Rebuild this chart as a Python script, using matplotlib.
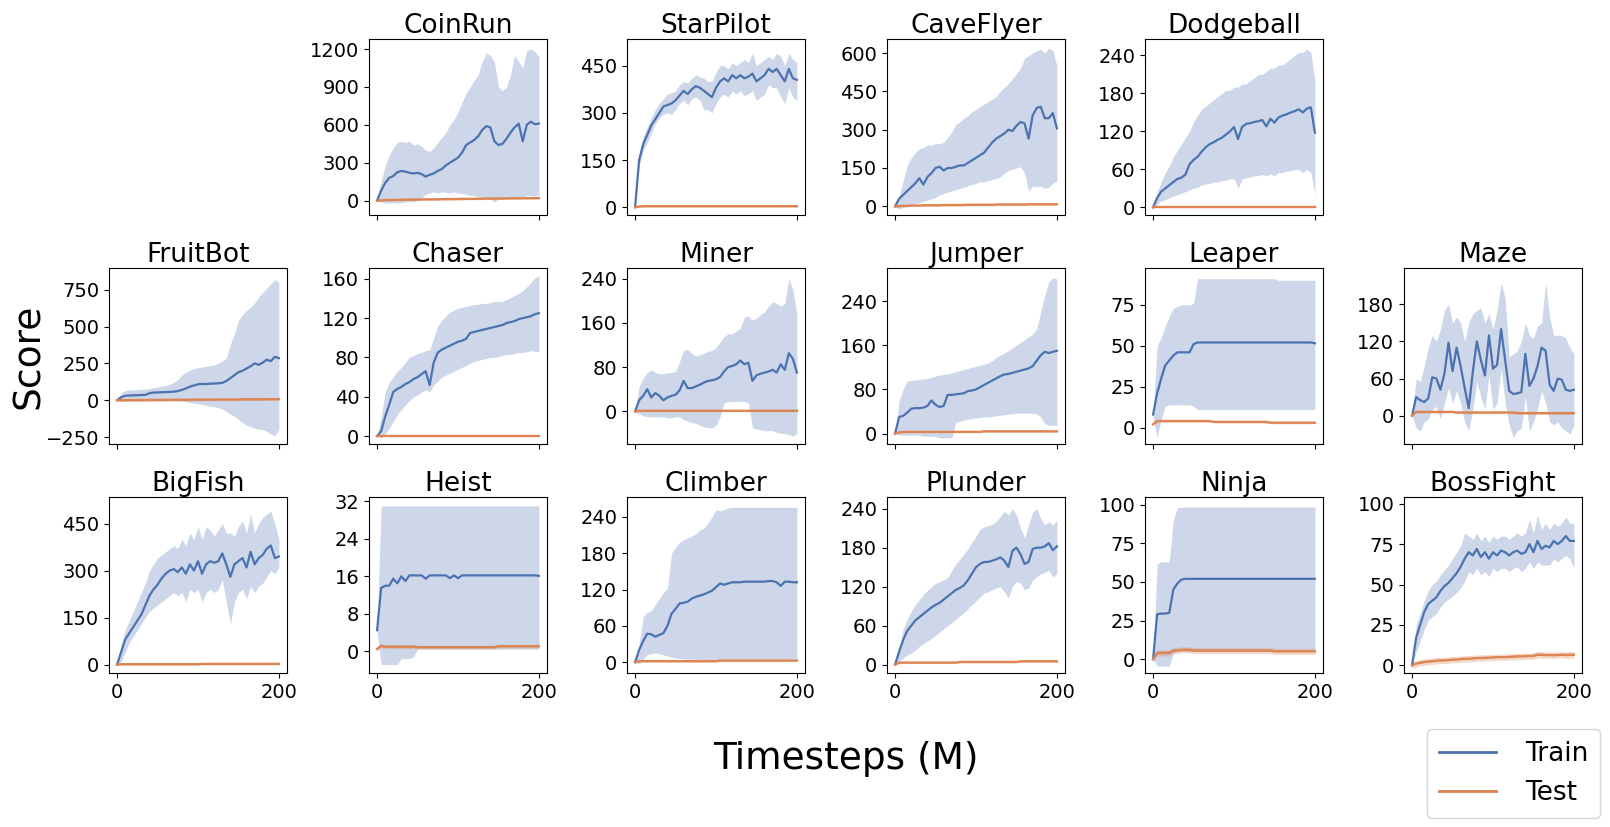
import matplotlib
matplotlib.use("Agg")
import matplotlib.pyplot as plt
from matplotlib.lines import Line2D

# ---------------------------------------------------------------------------
# Data (train mean, band low/high, test mean), x in M steps
# ---------------------------------------------------------------------------

STEPS = list(range(0, 205, 5))

COINRUN_TRAIN = [0, 80, 140, 180, 195, 225, 235, 230, 220, 215, 220, 210, 190, 205, 215, 235, 250, 280, 300, 320,
                 340, 380, 440, 460, 480, 510, 560, 590, 580, 470, 440, 450, 490, 540, 580, 610, 470, 600, 625, 605, 610]
COINRUN_HI = [0, 150, 280, 360, 420, 460, 470, 460, 470, 440, 450, 430, 400, 390, 420, 460, 500, 540, 600, 640,
              700, 780, 850, 900, 950, 1000, 1100, 1170, 1150, 1100, 900, 870, 900, 1000, 1150, 1100, 1050, 1190, 1200, 1180, 1140]
COINRUN_LO = [0, -10, -20, -20, -15, -20, -15, -10, -10, -10, 0, 20, 50, 60, 70, 60, 70, 65, 60, 70,
              60, 55, 50, 40, 40, 30, 30, 20, 10, -10, 10, 10, 20, 20, 30, 20, 30, 40, 40, 40, 40]
COINRUN_TEST = [0, 2, 4, 5, 6, 6, 7, 7, 8, 8, 9, 9, 10, 10, 10, 11, 11, 12, 12, 12,
                13, 13, 14, 14, 14, 15, 15, 16, 16, 16, 17, 17, 17, 18, 18, 18, 19, 19, 19, 20, 20]

STARPILOT_TRAIN = [0, 150, 200, 230, 260, 280, 300, 320, 325, 330, 340, 355, 370, 360, 375, 385, 380, 370, 360, 350,
                   380, 400, 410, 400, 420, 410, 420, 410, 415, 425, 400, 410, 420, 440, 430, 440, 420, 400, 440, 410, 405]
STARPILOT_HI = [0, 170, 225, 255, 285, 310, 330, 345, 360, 365, 370, 390, 400, 395, 410, 420, 415, 410, 400, 400,
                430, 450, 450, 440, 460, 450, 460, 470, 460, 490, 450, 460, 470, 480, 470, 490, 480, 450, 490, 470, 460]
STARPILOT_LO = [0, 130, 180, 205, 235, 265, 285, 295, 300, 295, 310, 330, 340, 325, 345, 350, 340, 310, 310, 300,
                330, 350, 360, 350, 370, 360, 370, 355, 360, 370, 340, 350, 360, 390, 380, 380, 350, 330, 380, 350, 340]
STARPILOT_TEST = [0, 2] + [3] * 39

CAVEFLYER_TRAIN = [0, 30, 45, 60, 75, 90, 110, 85, 115, 130, 150, 155, 140, 150, 150, 155, 160, 160, 170, 180,
                   190, 200, 210, 230, 250, 265, 275, 285, 300, 295, 315, 330, 325, 265, 355, 385, 390, 345, 345, 365, 305]
CAVEFLYER_HI = [0, 40, 100, 160, 190, 210, 225, 230, 240, 240, 245, 245, 250, 270, 290, 320, 330, 345, 355, 370,
                380, 390, 400, 410, 420, 430, 450, 465, 480, 500, 520, 540, 580, 590, 600, 610, 615, 600, 620, 610, 550]
CAVEFLYER_LO = [0, -10, -5, 0, 5, 10, 15, 20, 25, 30, 35, 45, 50, 55, 60, 65, 70, 75, 80, 85,
                90, 95, 95, 100, 105, 110, 115, 130, 140, 145, 150, 155, 130, 60, 80, 75, 80, 70, 75, 90, 100]
CAVEFLYER_TEST = [0, 1, 2, 2, 3, 3, 3, 4, 4, 4, 4, 4, 5, 5, 5, 5, 5, 5, 6, 6,
                  6, 6, 6, 6, 6, 7, 7, 7, 7, 7, 7, 7, 7, 8, 8, 8, 8, 8, 8, 8, 8]

DODGEBALL_TRAIN = [0, 15, 25, 30, 35, 40, 45, 47, 52, 68, 75, 80, 88, 95, 100, 103, 107, 110, 115, 120,
                   127, 108, 127, 132, 133, 135, 136, 138, 128, 140, 134, 142, 145, 147, 150, 152, 155, 150, 156, 158, 118]
DODGEBALL_HI = [0, 25, 40, 55, 65, 80, 90, 100, 110, 120, 135, 145, 155, 160, 165, 170, 175, 180, 185, 185,
                190, 190, 195, 195, 200, 205, 210, 210, 215, 220, 220, 225, 225, 230, 235, 240, 245, 245, 250, 245, 200]
DODGEBALL_LO = [0, 5, 10, 12, 15, 18, 20, 22, 25, 28, 30, 32, 35, 37, 38, 40, 40, 42, 43, 45,
                45, 30, 45, 47, 48, 50, 50, 52, 50, 53, 50, 55, 55, 57, 58, 60, 60, 55, 60, 55, 20]
DODGEBALL_TEST = [0.5] * 41

FRUITBOT_TRAIN = [0, 20, 30, 32, 33, 34, 35, 36, 48, 52, 53, 54, 55, 56, 58, 62, 70, 80, 92, 100,
                  108, 110, 110, 112, 113, 115, 118, 130, 150, 170, 190, 200, 215, 230, 250, 240, 255, 275, 265, 295, 285]
FRUITBOT_HI = [0, 50, 65, 70, 70, 72, 75, 75, 80, 85, 90, 95, 100, 110, 120, 140, 170, 190, 205, 215,
               220, 225, 230, 235, 240, 250, 265, 285, 380, 450, 540, 580, 610, 630, 660, 700, 730, 760, 790, 820, 800]
FRUITBOT_LO = [0, -5, -5, -5, -5, -5, -5, -5, -5, -5, -5, -5, -5, -5, -5, -5, -8, -10, -15, -20,
               -25, -30, -35, -40, -45, -50, -60, -75, -95, -110, -130, -150, -170, -180, -190, -195, -200, -210, -230, -240, -200]
FRUITBOT_TEST = [0, 0, 0, 1, 1, 1, 1, 1, 2, 2, 2, 2, 2, 3, 3, 3, 3, 3, 3, 4,
                 4, 4, 4, 4, 4, 5, 5, 5, 5, 5, 5, 6, 6, 6, 6, 6, 7, 7, 7, 7, 8]

CHASER_TRAIN = [0, 5, 20, 32, 45, 48, 50, 53, 55, 58, 60, 63, 66, 52, 75, 85, 88, 90, 92, 94,
                96, 97, 99, 105, 106, 107, 108, 109, 110, 111, 112, 113, 115, 116, 117, 119, 120, 121, 122, 124, 125]
CHASER_HI = [0, 20, 45, 55, 60, 66, 70, 75, 80, 82, 84, 85, 87, 88, 100, 112, 118, 122, 126, 128,
             130, 131, 132, 133, 134, 134, 135, 135, 136, 137, 137, 137, 139, 141, 143, 145, 148, 152, 156, 161, 163]
CHASER_LO = [0, -2, 2, 8, 15, 22, 27, 32, 36, 40, 42, 45, 47, 45, 52, 56, 60, 62, 64, 66,
             68, 70, 72, 74, 76, 77, 78, 79, 80, 80, 81, 82, 83, 83, 84, 85, 85, 86, 87, 86, 86]
CHASER_TEST = [0.5] * 41

MINER_TRAIN = [0, 20, 28, 40, 25, 33, 28, 20, 25, 28, 30, 38, 55, 42, 42, 45, 48, 52, 55, 56,
               58, 62, 72, 80, 82, 85, 92, 85, 88, 55, 65, 68, 70, 72, 75, 70, 85, 75, 105, 95, 70]
MINER_HI = [0, 45, 60, 70, 75, 70, 68, 68, 70, 70, 72, 90, 110, 112, 105, 100, 102, 105, 108, 110,
            115, 125, 135, 140, 140, 145, 150, 170, 172, 165, 168, 175, 180, 190, 198, 195, 190, 195, 240, 220, 175]
MINER_LO = [0, -5, -8, -10, -10, -10, -10, -10, -12, -12, -10, -10, -15, -18, -20, -22, -25, -28, -30, -30,
            -25, -10, 15, 18, 18, 18, 18, 18, 15, -30, -32, -33, -35, -35, -35, -38, -40, -40, -42, -45, -40]
MINER_TEST = [0] + [1] * 40

JUMPER_TRAIN = [0, 30, 32, 38, 45, 46, 46, 47, 50, 60, 52, 48, 50, 70, 70, 71, 72, 73, 77, 78,
                80, 84, 88, 92, 96, 100, 104, 107, 108, 110, 112, 114, 116, 118, 122, 132, 142, 148, 146, 148, 150]
JUMPER_HI = [0, 60, 80, 95, 96, 97, 98, 99, 100, 102, 104, 106, 107, 108, 110, 112, 114, 116, 118, 120,
             122, 124, 126, 128, 132, 138, 142, 146, 150, 155, 160, 165, 170, 175, 180, 190, 220, 250, 275, 282, 280]
JUMPER_LO = [0, -3, -3, -3, -3, -3, -3, -5, -5, -5, -5, -8, -8, -8, -8, 20, 22, 24, 26, 27,
             28, 29, 30, 30, 31, 32, 33, 34, 35, 36, 37, 37, 37, 37, 36, 36, 30, 18, 15, 15, 15]
JUMPER_TEST = [0, 2] + [3] * 20 + [4] * 19

LEAPER_TRAIN = [8, 21, 30, 38, 41, 44, 46, 46, 46, 46, 51] + [52] * 29 + [51.5]
LEAPER_HI = [8, 50, 55, 62, 68, 73, 74, 75, 75, 75, 76] + [91] * 20 + [90] * 10
LEAPER_LO = [6, -6, 5, 13, 14, 14, 14, 14, 14, 14, 13] + [11] * 30
LEAPER_TEST = [2] + [4] * 14 + [3.5] * 14 + [3] * 12

MAZE_TRAIN = [0, 30, 25, 22, 28, 62, 60, 42, 68, 118, 72, 110, 80, 45, 12, 70, 120, 90, 65, 130,
              76, 82, 140, 90, 40, 35, 36, 38, 100, 48, 60, 80, 110, 105, 50, 40, 60, 58, 42, 40, 42]
MAZE_HI = [0, 60, 55, 80, 110, 130, 120, 140, 170, 180, 150, 160, 150, 120, 150, 165, 170, 175, 150, 165,
           140, 170, 215, 190, 95, 100, 105, 120, 150, 130, 125, 145, 150, 215, 160, 130, 130, 130, 125, 110, 100]
MAZE_LO = [0, -20, -25, -10, -5, 10, 15, -5, 20, 45, 20, 40, 20, -10, -25, 10, 55, 30, 10, 65,
           10, 20, 75, 20, -15, -35, -25, -20, 30, -25, -10, 10, 40, 20, -10, -15, -10, -20, -25, -30, -15]
MAZE_TEST = [0] + [6] * 10 + [5] * 15 + [4] * 15

BIGFISH_TRAIN = [0, 40, 80, 100, 120, 140, 160, 190, 220, 240, 255, 275, 290, 300, 305, 295, 310, 290, 320, 300,
                 330, 290, 320, 330, 325, 330, 355, 320, 280, 320, 330, 340, 310, 360, 320, 340, 350, 370, 380, 340, 345]
BIGFISH_HI = [0, 60, 110, 140, 170, 200, 230, 260, 300, 320, 340, 350, 360, 370, 380, 370, 400, 380, 420, 400,
              440, 400, 440, 430, 410, 430, 450, 420, 420, 410, 440, 460, 420, 480, 420, 450, 470, 480, 490, 450, 400]
BIGFISH_LO = [0, 10, 40, 70, 90, 110, 130, 150, 170, 180, 190, 200, 210, 220, 230, 220, 230, 200, 240, 230,
              240, 200, 230, 240, 230, 240, 270, 200, 130, 200, 230, 240, 210, 250, 230, 250, 260, 280, 300, 290, 310]
BIGFISH_TEST = [0] + [1] * 20 + [2] * 20

HEIST_TRAIN = [4.5, 13.5, 14, 14, 15.5, 14.5, 16, 15, 16.2, 16.2, 16.2, 16.2, 15.5, 16.2, 16.2, 16.2, 16.2, 16.2,
               15.6, 16.2, 15.6] + [16.2] * 19 + [16.1]
HEIST_HI = [5] + [31] * 40
HEIST_LO = [4, -2.8, -2.8, -2.8, -2.8, -2.8, -1.5, -1.5, -1.5, -1.2] + [0.5] * 31
HEIST_TEST = [0.5, 1.2, 1, 1, 1, 1, 1, 1, 1, 1] + [0.9] * 20 + [1.1] * 11

CLIMBER_TRAIN = [0, 20, 35, 47, 46, 42, 45, 48, 60, 80, 88, 97, 98, 100, 105, 108, 110, 112, 115, 118,
                 124, 130, 128, 130, 132, 132, 132, 133, 133, 133, 133, 133, 133, 134, 134, 132, 126, 133, 133, 132, 132]
CLIMBER_HI = [0, 30, 75, 82, 85, 95, 105, 115, 122, 180, 190, 198, 202, 205, 208, 212, 218, 222, 230, 240,
              252, 250, 252, 255] + [256] * 17
CLIMBER_LO = [0, -3, 5, 12, 14, 15, 14, 12, 10, 8, 7, 6, 6, 5, 5, 5] + [4] * 25
CLIMBER_TEST = [0] + [1.5] * 20 + [2.5] * 20

PLUNDER_TRAIN = [0, 20, 38, 52, 60, 68, 73, 78, 83, 88, 92, 95, 100, 105, 110, 115, 118, 122, 130, 140,
                 150, 155, 158, 158, 160, 162, 165, 160, 150, 175, 180, 170, 155, 158, 178, 180, 180, 182, 187, 176, 182]
PLUNDER_HI = [0, 25, 55, 70, 82, 92, 100, 108, 114, 120, 125, 128, 130, 134, 145, 155, 162, 170, 178, 188,
              198, 208, 212, 214, 216, 220, 228, 236, 230, 240, 230, 210, 195, 215, 235, 240, 225, 215, 220, 215, 222]
PLUNDER_LO = [0, 5, 10, 15, 18, 22, 28, 32, 36, 40, 45, 50, 55, 60, 65, 70, 75, 80, 86, 92,
              98, 104, 110, 112, 115, 118, 120, 112, 102, 120, 128, 125, 115, 118, 130, 135, 140, 142, 145, 135, 140]
PLUNDER_TEST = [0] + [3] * 15 + [4] * 15 + [5] * 10

NINJA_TRAIN = [0, 29, 29.5, 29.5, 30, 45, 49, 51.5] + [52] * 33
NINJA_HI = [0, 62, 63, 63, 63, 90, 98] + [98.5] * 34
NINJA_LO = [0, -4.5, -4.5, -4.5, -4.5, 4, 5] + [5] * 34
NINJA_TEST = [0, 4, 4, 4, 4, 5.5, 5.5, 6, 6, 6] + [5.5] * 20 + [5] * 11

BOSSFIGHT_TRAIN = [0, 17, 25, 33, 38, 40, 42, 46, 49, 51, 54, 57, 61, 66, 70, 68, 72, 67, 70, 66,
                   70, 68, 71, 70, 68, 70, 71, 69, 70, 75, 70, 77, 72, 74, 73, 77, 75, 77, 80, 77, 77]
BOSSFIGHT_HI = [0, 25, 32, 40, 46, 50, 52, 56, 59, 62, 66, 70, 74, 82, 80, 78, 82, 77, 80, 76,
                80, 78, 80, 80, 78, 80, 82, 80, 82, 90, 82, 93, 84, 88, 84, 88, 86, 88, 92, 88, 88]
BOSSFIGHT_LO = [0, 8, 15, 22, 28, 30, 32, 36, 39, 41, 43, 45, 48, 52, 58, 56, 60, 56, 58, 55,
                60, 58, 60, 60, 58, 60, 61, 58, 60, 64, 60, 64, 62, 62, 62, 66, 64, 66, 68, 66, 60]
BOSSFIGHT_TEST = [0, 1, 1.5, 2, 2.3, 2.5, 2.8, 3, 3, 3.2, 3.5, 3.5, 3.8, 4, 4, 4.2, 4.5, 4.5, 4.6, 4.7,
                  4.8, 5, 5, 5, 5.2, 5.3, 5.5, 5.5, 5.6, 5.7, 5.8, 6.5, 6.5, 6.3, 6.3, 6.2, 6.3, 6.5, 6.3, 6.5, 6.5]

# title -> (train, lo, hi, test, test half-width, yticks)
PANELS = {
    "CoinRun": (COINRUN_TRAIN, COINRUN_LO, COINRUN_HI, COINRUN_TEST, 8, [0, 300, 600, 900, 1200]),
    "StarPilot": (STARPILOT_TRAIN, STARPILOT_LO, STARPILOT_HI, STARPILOT_TEST, 3, [0, 150, 300, 450]),
    "CaveFlyer": (CAVEFLYER_TRAIN, CAVEFLYER_LO, CAVEFLYER_HI, CAVEFLYER_TEST, 4, [0, 150, 300, 450, 600]),
    "Dodgeball": (DODGEBALL_TRAIN, DODGEBALL_LO, DODGEBALL_HI, DODGEBALL_TEST, 1, [0, 60, 120, 180, 240]),
    "FruitBot": (FRUITBOT_TRAIN, FRUITBOT_LO, FRUITBOT_HI, FRUITBOT_TEST, 8, [-250, 0, 250, 500, 750]),
    "Chaser": (CHASER_TRAIN, CHASER_LO, CHASER_HI, CHASER_TEST, 0.8, [0, 40, 80, 120, 160]),
    "Miner": (MINER_TRAIN, MINER_LO, MINER_HI, MINER_TEST, 1.5, [0, 80, 160, 240]),
    "Jumper": (JUMPER_TRAIN, JUMPER_LO, JUMPER_HI, JUMPER_TEST, 1.5, [0, 80, 160, 240]),
    "Leaper": (LEAPER_TRAIN, LEAPER_LO, LEAPER_HI, LEAPER_TEST, 0.7, [0, 25, 50, 75]),
    "Maze": (MAZE_TRAIN, MAZE_LO, MAZE_HI, MAZE_TEST, 2, [0, 60, 120, 180]),
    "BigFish": (BIGFISH_TRAIN, BIGFISH_LO, BIGFISH_HI, BIGFISH_TEST, 3, [0, 150, 300, 450]),
    "Heist": (HEIST_TRAIN, HEIST_LO, HEIST_HI, HEIST_TEST, 0.4, [0, 8, 16, 24, 32]),
    "Climber": (CLIMBER_TRAIN, CLIMBER_LO, CLIMBER_HI, CLIMBER_TEST, 1.5, [0, 60, 120, 180, 240]),
    "Plunder": (PLUNDER_TRAIN, PLUNDER_LO, PLUNDER_HI, PLUNDER_TEST, 1.5, [0, 60, 120, 180, 240]),
    "Ninja": (NINJA_TRAIN, NINJA_LO, NINJA_HI, NINJA_TEST, 2, [0, 25, 50, 75, 100]),
    "BossFight": (BOSSFIGHT_TRAIN, BOSSFIGHT_LO, BOSSFIGHT_HI, BOSSFIGHT_TEST, 2, [0, 25, 50, 75, 100]),
}

GRID = [
    [None, "CoinRun", "StarPilot", "CaveFlyer", "Dodgeball", None],
    ["FruitBot", "Chaser", "Miner", "Jumper", "Leaper", "Maze"],
    ["BigFish", "Heist", "Climber", "Plunder", "Ninja", "BossFight"],
]

# ---------------------------------------------------------------------------
# Layout (pixels in a 1610x827 canvas)
# ---------------------------------------------------------------------------
W, H = 1610, 827
COL_LEFT = [109, 369, 627, 887, 1145, 1404]
ROW_TOP = [39, 268, 497]
AX_W, AX_H = 178, 176

YLIMS = {
    "CoinRun": (-114, 1280), "StarPilot": (-25, 535), "CaveFlyer": (-34, 655), "Dodgeball": (-12, 266),
    "FruitBot": (-297, 897), "Chaser": (-8, 171), "Miner": (-59, 259), "Jumper": (-19, 300),
    "Leaper": (-10, 97.5), "Maze": (-46, 239), "BigFish": (-27, 535), "Heist": (-4.6, 32.9),
    "Climber": (-18, 273), "Plunder": (-13, 258), "Ninja": (-9, 105), "BossFight": (-4.8, 104.2),
}

TRAIN_C = "#4c72b0"
TEST_C = "#dd8452"

fig = plt.figure(figsize=(W / 100, H / 100), dpi=100)

for r, row in enumerate(GRID):
    for c, name in enumerate(row):
        if name is None:
            continue
        train, lo, hi, test, spread, yticks = PANELS[name]
        left = COL_LEFT[c] / W
        bottom = 1 - (ROW_TOP[r] + AX_H) / H
        ax = fig.add_axes([left, bottom, AX_W / W, AX_H / H])

        ax.fill_between(STEPS, lo, hi, color=TRAIN_C, alpha=0.28, linewidth=0)
        ax.plot(STEPS, train, color=TRAIN_C, linewidth=1.6)
        test_lo = [v - spread for v in test]
        test_hi = [v + spread for v in test]
        ax.fill_between(STEPS, test_lo, test_hi, color=TEST_C, alpha=0.3, linewidth=0)
        ax.plot(STEPS, test, color=TEST_C, linewidth=1.7)

        ax.set_title(name, fontsize=19, pad=3)
        ax.set_xlim(-10, 210)
        ax.set_ylim(*YLIMS[name])
        ax.set_xticks([0, 200])
        ax.set_yticks(yticks)
        ax.tick_params(labelsize=14)
        if r < 2:
            ax.set_xticklabels([])

fig.text(29 / W, 1 - 356 / H, "Score", rotation=90, fontsize=27, ha="center", va="center")
fig.text(846 / W, 1 - 759 / H, "Timesteps (M)", fontsize=27, ha="center", va="center")

handles = [Line2D([], [], color=TRAIN_C, linewidth=2),
           Line2D([], [], color=TEST_C, linewidth=2)]
fig.legend(handles, ["Train", "Test"], loc="lower right",
           bbox_to_anchor=(1600 / W, 1 - 818 / H), borderaxespad=0, fontsize=19,
           handlelength=2.15, handletextpad=1.1, borderpad=0.45, labelspacing=0.5)

fig.savefig("out.png", dpi=100)
